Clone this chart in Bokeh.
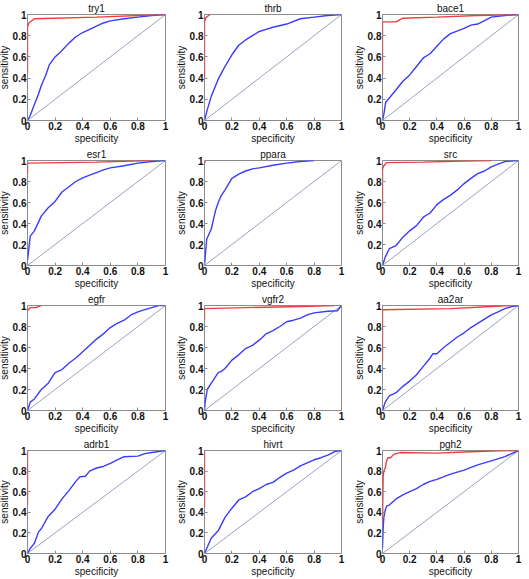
from bokeh.plotting import figure
from bokeh.layouts import gridplot
from bokeh.models import Range1d, FixedTicker
from bokeh.embed import file_html
from bokeh.resources import INLINE

targets = ["try1", "thrb", "bace1", "esr1", "ppara", "src",
           "egfr", "vgfr2", "aa2ar", "adrb1", "hivrt", "pgh2"]
tick_values = [0, 0.2, 0.4, 0.6, 0.8, 1]
tick_labels = ["0", "0.2", "0.4", "0.6", "0.8", "1"]
diag_x = [0, 1]
diag_y = [0, 1]

try1_blue_x = [0, 0.02, 0.05, 0.08, 0.1, 0.13, 0.16, 0.2, 0.25, 0.3, 0.35, 0.4, 0.45, 0.5, 0.55, 0.6, 0.7, 0.8, 0.9, 1]
try1_blue_y = [0, 0.05, 0.15, 0.25, 0.33, 0.42, 0.53, 0.6, 0.66, 0.73, 0.79, 0.83, 0.86, 0.89, 0.92, 0.94, 0.96, 0.975, 0.99, 1]
try1_red_x = [0, 0, 0.01, 0.05, 0.5, 0.9, 1]
try1_red_y = [0.45, 0.88, 0.92, 0.96, 0.975, 0.995, 1]

thrb_blue_x = [0, 0.02, 0.05, 0.1, 0.15, 0.2, 0.25, 0.3, 0.35, 0.4, 0.45, 0.5, 0.6, 0.7, 0.8, 0.9, 1]
thrb_blue_y = [0, 0.1, 0.23, 0.39, 0.51, 0.62, 0.71, 0.76, 0.8, 0.84, 0.86, 0.88, 0.91, 0.96, 0.975, 0.99, 1]
thrb_red_x = [0, 0, 0.01, 0.03, 0.04]
thrb_red_y = [0.4, 0.93, 0.97, 0.99, 1]

bace1_blue_x = [0, 0.01, 0.023, 0.1, 0.15, 0.2, 0.25, 0.3, 0.35, 0.4, 0.45, 0.5, 0.6, 0.65, 0.7, 0.8, 0.9, 1]
bace1_blue_y = [0, 0.06, 0.17, 0.29, 0.37, 0.43, 0.51, 0.59, 0.63, 0.7, 0.77, 0.82, 0.87, 0.9, 0.91, 0.975, 0.99, 1]
bace1_red_x = [0, 0, 0.1, 0.15, 0.4, 0.7, 1]
bace1_red_y = [0.43, 0.93, 0.93, 0.965, 0.975, 0.99, 1]

esr1_blue_x = [0, 0.01, 0.02, 0.05, 0.1, 0.15, 0.2, 0.25, 0.3, 0.35, 0.4, 0.45, 0.5, 0.55, 0.6, 0.7, 0.8, 0.9, 1]
esr1_blue_y = [0.05, 0.16, 0.28, 0.33, 0.47, 0.55, 0.61, 0.7, 0.75, 0.8, 0.835, 0.86, 0.885, 0.91, 0.93, 0.95, 0.975, 0.99, 1]
esr1_red_x = [0, 0, 0.5, 0.9]
esr1_red_y = [0.87, 0.975, 0.985, 1]

ppara_blue_x = [0, 0.016, 0.05, 0.08, 0.1, 0.12, 0.15, 0.2, 0.25, 0.3, 0.35, 0.4, 0.5, 0.6, 0.7, 0.8]
ppara_blue_y = [0, 0.25, 0.35, 0.52, 0.6, 0.66, 0.72, 0.83, 0.87, 0.9, 0.92, 0.93, 0.955, 0.975, 0.99, 1]
ppara_red_x = [0, 0.005]
ppara_red_y = [0.97, 1]

src_blue_x = [0, 0.02, 0.05, 0.1, 0.15, 0.2, 0.25, 0.3, 0.35, 0.4, 0.45, 0.5, 0.55, 0.6, 0.65, 0.7, 0.75, 0.8, 0.85, 0.9, 1]
src_blue_y = [0, 0.08, 0.16, 0.19, 0.27, 0.33, 0.38, 0.46, 0.5, 0.58, 0.63, 0.67, 0.72, 0.78, 0.83, 0.875, 0.9, 0.94, 0.965, 0.99, 1]
src_red_x = [0, 0, 0.01, 0.03, 0.3, 0.6, 0.8]
src_red_y = [0.4, 0.92, 0.95, 0.98, 0.985, 0.995, 1]

egfr_blue_x = [0, 0.02, 0.05, 0.1, 0.15, 0.2, 0.25, 0.3, 0.35, 0.4, 0.45, 0.5, 0.55, 0.6, 0.65, 0.7, 0.75, 0.8, 0.85, 0.9, 0.95, 1]
egfr_blue_y = [0, 0.08, 0.11, 0.2, 0.26, 0.36, 0.39, 0.45, 0.5, 0.56, 0.62, 0.68, 0.73, 0.79, 0.83, 0.86, 0.91, 0.94, 0.96, 0.98, 1, 1]
egfr_red_x = [0, 0.02, 0.06, 0.1]
egfr_red_y = [0.95, 0.98, 0.98, 1]

vgfr2_blue_x = [0, 0.005, 0.02, 0.05, 0.1, 0.12, 0.15, 0.2, 0.25, 0.3, 0.35, 0.4, 0.45, 0.5, 0.55, 0.6, 0.65, 0.7, 0.75, 0.8, 0.9, 0.97, 1]
vgfr2_blue_y = [0, 0.08, 0.2, 0.26, 0.36, 0.37, 0.4, 0.48, 0.53, 0.59, 0.62, 0.67, 0.73, 0.76, 0.8, 0.845, 0.86, 0.88, 0.91, 0.93, 0.945, 0.95, 1]
vgfr2_red_x = [0, 0, 0.3, 0.7, 0.95]
vgfr2_red_y = [0.87, 0.97, 0.98, 0.99, 1]

aa2ar_blue_x = [0, 0.02, 0.05, 0.1, 0.15, 0.2, 0.25, 0.3, 0.35, 0.37, 0.4, 0.45, 0.5, 0.55, 0.6, 0.65, 0.7, 0.75, 0.8, 0.85, 0.9, 0.95, 1]
aa2ar_blue_y = [0, 0.08, 0.14, 0.17, 0.23, 0.28, 0.34, 0.42, 0.5, 0.54, 0.54, 0.6, 0.65, 0.7, 0.74, 0.79, 0.83, 0.87, 0.91, 0.94, 0.97, 0.99, 1]
aa2ar_red_x = [0, 0, 0.5, 0.8, 0.95]
aa2ar_red_y = [0.47, 0.96, 0.97, 0.99, 1]

adrb1_blue_x = [0, 0.02, 0.05, 0.08, 0.1, 0.15, 0.2, 0.25, 0.3, 0.35, 0.38, 0.42, 0.45, 0.5, 0.55, 0.6, 0.65, 0.7, 0.8, 0.85, 0.9, 1]
adrb1_blue_y = [0, 0.05, 0.1, 0.21, 0.24, 0.36, 0.43, 0.53, 0.61, 0.7, 0.745, 0.75, 0.8, 0.83, 0.845, 0.875, 0.91, 0.94, 0.945, 0.97, 0.98, 1]
adrb1_red_x = [0, 0]
adrb1_red_y = [0.47, 1]

hivrt_blue_x = [0, 0.02, 0.05, 0.1, 0.13, 0.15, 0.2, 0.25, 0.3, 0.35, 0.4, 0.45, 0.5, 0.55, 0.6, 0.65, 0.7, 0.75, 0.8, 0.85, 0.9, 0.95, 1]
hivrt_blue_y = [0, 0.06, 0.15, 0.22, 0.3, 0.35, 0.44, 0.52, 0.55, 0.6, 0.63, 0.67, 0.69, 0.74, 0.78, 0.81, 0.85, 0.88, 0.91, 0.93, 0.955, 0.99, 1]
hivrt_red_x = [0, 0]
hivrt_red_y = [0.45, 1]

pgh2_blue_x = [0, 0.005, 0.01, 0.02, 0.03, 0.05, 0.1, 0.15, 0.2, 0.25, 0.3, 0.35, 0.4, 0.5, 0.6, 0.7, 0.8, 0.9, 1]
pgh2_blue_y = [0.05, 0.25, 0.35, 0.42, 0.46, 0.47, 0.53, 0.57, 0.6, 0.63, 0.67, 0.7, 0.72, 0.77, 0.81, 0.86, 0.9, 0.94, 1]
pgh2_red_x = [0, 0.005, 0.01, 0.02, 0.03, 0.04, 0.06, 0.08, 0.1, 0.13, 0.4, 0.6, 0.8, 1]
pgh2_red_y = [0.3, 0.75, 0.8, 0.83, 0.9, 0.93, 0.93, 0.96, 0.97, 0.98, 0.975, 0.985, 0.995, 1]

blue_x = [try1_blue_x, thrb_blue_x, bace1_blue_x, esr1_blue_x, ppara_blue_x, src_blue_x,
          egfr_blue_x, vgfr2_blue_x, aa2ar_blue_x, adrb1_blue_x, hivrt_blue_x, pgh2_blue_x]
blue_y = [try1_blue_y, thrb_blue_y, bace1_blue_y, esr1_blue_y, ppara_blue_y, src_blue_y,
          egfr_blue_y, vgfr2_blue_y, aa2ar_blue_y, adrb1_blue_y, hivrt_blue_y, pgh2_blue_y]
red_x = [try1_red_x, thrb_red_x, bace1_red_x, esr1_red_x, ppara_red_x, src_red_x,
         egfr_red_x, vgfr2_red_x, aa2ar_red_x, adrb1_red_x, hivrt_red_x, pgh2_red_x]
red_y = [try1_red_y, thrb_red_y, bace1_red_y, esr1_red_y, ppara_red_y, src_red_y,
         egfr_red_y, vgfr2_red_y, aa2ar_red_y, adrb1_red_y, hivrt_red_y, pgh2_red_y]

# layout (cell sizes and borders)
col_w = [177, 178, 172]
col_left = [24, 23, 24]
col_right = [7, 9, 4]
row_h = [146, 145, 145, 143]
row_top = [14, 14, 14, 14]
row_bottom = [24, 24, 23, 22]

FONT = "Liberation Sans"
BLUE = "#3b3bff"
RED = "#f23c3c"
DIAG = "#97a4c0"
BOX = "#8c8c8c"

rows = []
for r in range(4):
    row = []
    for c in range(3):
        i = r * 3 + c
        p = figure(width=col_w[c], height=row_h[r],
                   x_range=Range1d(0, 1), y_range=Range1d(0, 1),
                   output_backend="svg", toolbar_location=None,
                   title=targets[i],
                   min_border_left=col_left[c], min_border_right=col_right[c],
                   min_border_top=row_top[r], min_border_bottom=row_bottom[r])
        p.title.align = "center"
        p.title.text_font = FONT
        p.title.text_font_size = "10px"
        p.title.text_font_style = "normal"
        p.title.text_color = "#111111"
        p.title.standoff = 1
        p.title.offset = 0
        p.grid.visible = False
        p.outline_line_color = BOX
        p.outline_line_width = 1
        p.xaxis.axis_label = "specificity"
        p.yaxis.axis_label = "sensitivity"
        for ax in (p.xaxis[0], p.yaxis[0]):
            ax.ticker = FixedTicker(ticks=tick_values)
            ax.major_label_overrides = {v: s for v, s in zip(tick_values, tick_labels)}
            ax.axis_line_color = None
            ax.major_tick_in = 3
            ax.major_tick_out = 0
            ax.major_tick_line_color = BOX
            ax.minor_tick_line_color = None
            ax.major_label_text_font = FONT
            ax.major_label_text_font_size = "10px"
            ax.major_label_text_font_style = "bold"
            ax.major_label_text_color = "#111111"
            ax.major_label_standoff = 1
            ax.axis_label_text_font = FONT
            ax.axis_label_text_font_size = "10px"
            ax.axis_label_text_font_style = "normal"
            ax.axis_label_text_color = "#111111"
            ax.axis_label_standoff = 0
        p.line(diag_x, diag_y, line_color=DIAG, line_width=1)
        p.line(blue_x[i], blue_y[i], line_color=BLUE, line_width=1.4)
        p.line(red_x[i], red_y[i], line_color=RED, line_width=1.4)
        row.append(p)
    rows.append(row)

grid = gridplot(rows, toolbar_location=None)
grid.margin = (0, 0, 0, -5)

open("out.html", "w").write(file_html(grid, INLINE))
